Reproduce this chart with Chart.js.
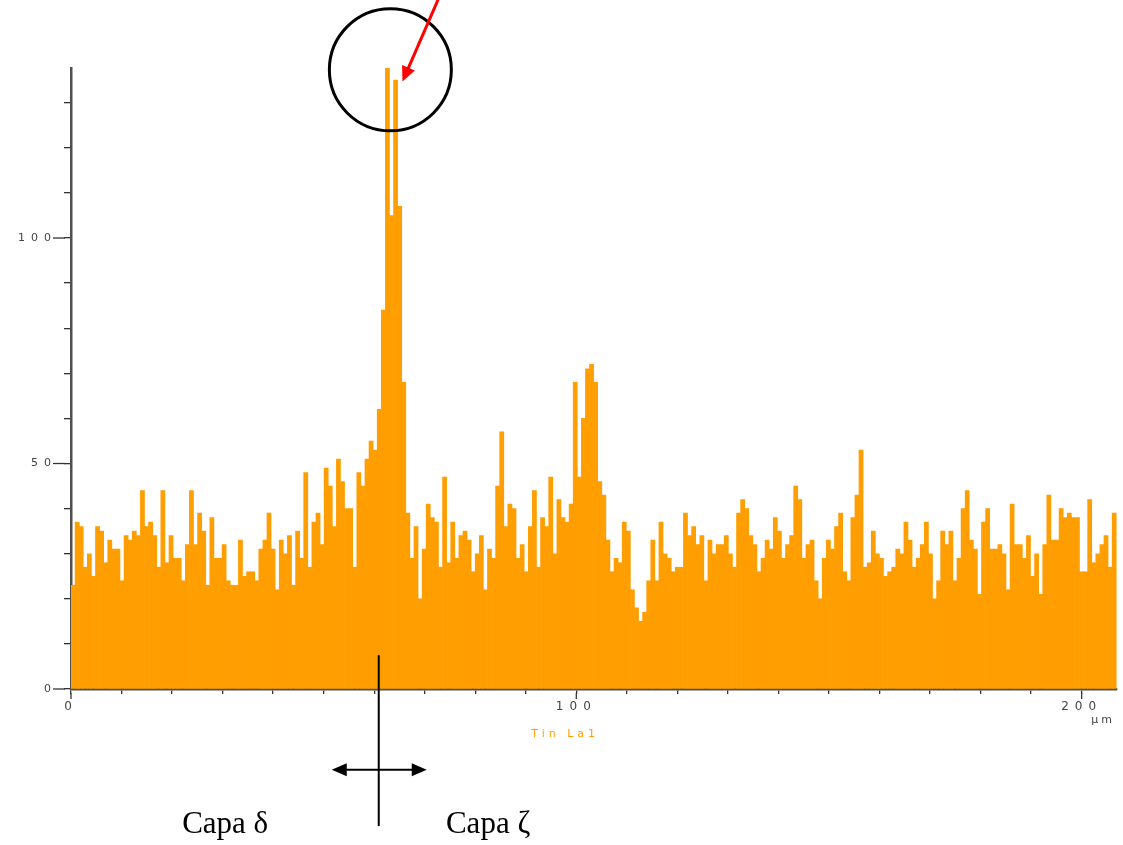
<!DOCTYPE html>
<html>
<head>
<meta charset="utf-8">
<title>Tin La1</title>
<style>
  html, body { margin: 0; padding: 0; background: #fff; }
</style>
</head>
<body>
<canvas id="myChart" width="1123" height="845"></canvas>
<script src="https://cdn.jsdelivr.net/npm/chart.js@4/dist/chart.umd.min.js"></script>
<script>

let seriesName = 'Tin La1';
let orange = '#FF9E00';

// cuentas por punto del perfil (de izquierda a derecha)
let counts = [
  23, 37, 36, 27, 30, 25, 36, 35, 28, 33, 31, 31, 24, 34, 33, 35, 34, 44, 36, 37,
  34, 27, 44, 28, 34, 29, 29, 24, 32, 44, 32, 39, 35, 23, 38, 29, 29, 32, 24, 23,
  23, 33, 25, 26, 26, 24, 31, 33, 39, 31, 22, 33, 30, 34, 23, 35, 29, 48, 27, 37,
  39, 32, 49, 45, 36, 51, 46, 40, 40, 27, 48, 45, 51, 55, 53, 62, 84, 138, 105, 135,
  107, 68, 39, 29, 36, 20, 31, 41, 38, 37, 27, 47, 28, 37, 29, 34, 35, 33, 26, 30,
  34, 22, 31, 29, 45, 57, 36, 41, 40, 29, 32, 26, 36, 44, 27, 38, 36, 47, 30, 42,
  38, 37, 41, 68, 47, 60, 71, 72, 68, 46, 43, 33, 26, 29, 28, 37, 35, 22, 18, 15,
  17, 24, 33, 24, 37, 30, 29, 26, 27, 27, 39, 34, 36, 32, 34, 24, 33, 30, 32, 32,
  34, 30, 27, 39, 42, 40, 34, 32, 26, 29, 33, 31, 38, 35, 29, 32, 34, 45, 42, 29,
  32, 33, 24, 20, 29, 33, 31, 36, 39, 26, 24, 38, 43, 53, 27, 28, 35, 30, 29, 25,
  26, 27, 31, 30, 37, 33, 27, 29, 32, 37, 30, 20, 24, 35, 32, 35, 24, 29, 40, 44,
  33, 31, 21, 37, 40, 31, 31, 32, 30, 22, 41, 32, 32, 29, 34, 25, 30, 21, 32, 43,
  33, 33, 40, 38, 39, 38, 38, 26, 26, 42, 28, 30, 32, 34, 27, 39
];
let stepUm = 0.808;   // µm entre puntos
let xMax = 207;
let yMax = 137.7;
let xLabelled = [0, 100, 200];
let yLabelled = [0, 50, 100];
let layerLabels = ['Capa δ', 'Capa ζ'];

let points = counts.map((v, i) => ({ x: (i + 0.5) * stepUm, y: v }));

function everyTen(max) {
  let t = [];
  for (let v = 0; v <= max; v += 10) t.push({ value: v });
  return t;
}

// dibujos a mano del informe (círculo, flechas, textos)
let notes = {
  circle: { x: 63.2, y: 137.3, r: 61 },
  arrowFrom: { x: 72.7, y: 153.0 },
  arrowTo: { x: 65.6, y: 134.7 },
  divider: { x: 60.9, y1: 7.5, y2: -30.4 },
  span: { x1: 51.6, x2: 70.4, y: -17.9 },
  textY: -31.9,
  textX: [22.0, 74.2],
  seriesAt: { x: 97.8, y: -9.9 },
  unitAt: { x: 206.6, y: -6.9 }
};

function arrowHead(ctx, fx, fy, tx, ty, len, half) {
  let a = Math.atan2(ty - fy, tx - fx);
  ctx.beginPath();
  ctx.moveTo(tx, ty);
  ctx.lineTo(tx - len * Math.cos(a) + half * Math.sin(a), ty - len * Math.sin(a) - half * Math.cos(a));
  ctx.lineTo(tx - len * Math.cos(a) - half * Math.sin(a), ty - len * Math.sin(a) + half * Math.cos(a));
  ctx.closePath();
  ctx.fill();
}

let extras = {
  id: 'extras',
  beforeDraw(chart) {
    chart.ctx.letterSpacing = '6px';
  },
  afterDraw(chart) {
    let ctx = chart.ctx;
    let xs = chart.scales.x, ys = chart.scales.y;
    let area = chart.chartArea;
    let px = v => xs.getPixelForValue(v);
    let py = v => ys.getPixelForValue(v);

    ctx.save();
    // ticks largos en los valores con etiqueta
    ctx.strokeStyle = '#333';
    ctx.lineWidth = 1.3;
    yLabelled.forEach(v => {
      ctx.beginPath();
      ctx.moveTo(area.left - 18, py(v));
      ctx.lineTo(area.left - 6, py(v));
      ctx.stroke();
    });
    xLabelled.forEach(v => {
      ctx.beginPath();
      ctx.moveTo(px(v), area.bottom + 4);
      ctx.lineTo(px(v), area.bottom + 10);
      ctx.stroke();
    });

    ctx.letterSpacing = '3px';
    ctx.font = '11px "DejaVu Sans"';
    ctx.textBaseline = 'middle';
    ctx.fillStyle = '#444';
    ctx.textAlign = 'right';
    ctx.fillText('µm', px(notes.unitAt.x), py(notes.unitAt.y));
    ctx.letterSpacing = '4px';
    ctx.fillStyle = orange;
    ctx.textAlign = 'center';
    ctx.fillText(seriesName, px(notes.seriesAt.x), py(notes.seriesAt.y));
    ctx.letterSpacing = '0px';

    // círculo
    ctx.strokeStyle = '#000';
    ctx.lineWidth = 3;
    ctx.beginPath();
    ctx.arc(px(notes.circle.x), py(notes.circle.y), notes.circle.r, 0, Math.PI * 2);
    ctx.stroke();

    // flecha roja
    let fx = px(notes.arrowFrom.x), fy = py(notes.arrowFrom.y);
    let tx = px(notes.arrowTo.x), ty = py(notes.arrowTo.y);
    ctx.strokeStyle = '#FF0000';
    ctx.fillStyle = '#FF0000';
    ctx.lineWidth = 3;
    let a = Math.atan2(ty - fy, tx - fx);
    ctx.beginPath();
    ctx.moveTo(fx, fy);
    ctx.lineTo(tx - 10 * Math.cos(a), ty - 10 * Math.sin(a));
    ctx.stroke();
    arrowHead(ctx, fx, fy, tx, ty, 15, 7);

    // separación de capas
    ctx.strokeStyle = '#000';
    ctx.fillStyle = '#000';
    ctx.lineWidth = 2;
    let dx = px(notes.divider.x);
    ctx.beginPath();
    ctx.moveTo(dx, py(notes.divider.y1));
    ctx.lineTo(dx, py(notes.divider.y2));
    ctx.stroke();
    let sy = py(notes.span.y), sx1 = px(notes.span.x1), sx2 = px(notes.span.x2);
    ctx.beginPath();
    ctx.moveTo(sx1 + 10, sy);
    ctx.lineTo(sx2 - 10, sy);
    ctx.stroke();
    arrowHead(ctx, sx2, sy, sx1, sy, 15, 6.5);
    arrowHead(ctx, sx1, sy, sx2, sy, 15, 6.5);

    ctx.font = '31px "Liberation Serif"';
    ctx.textAlign = 'left';
    ctx.textBaseline = 'alphabetic';
    layerLabels.forEach((t, i) => ctx.fillText(t, px(notes.textX[i]), py(notes.textY)));
    ctx.restore();
  }
};

let ctx = document.getElementById('myChart').getContext('2d');

let myChart = new Chart(ctx, {
  type: 'bar',
  data: {
    datasets: [{
      label: seriesName,
      data: points,
      backgroundColor: orange,
      borderWidth: 0,
      barPercentage: 1,
      categoryPercentage: 1
    }]
  },
  options: {
    responsive: false,
    animation: false,
    layout: {
      padding: { top: 68, right: 6, left: 0, bottom: 0 }
    },
    plugins: {
      legend: { display: false },
      tooltip: { enabled: false }
    },
    scales: {
      x: {
        type: 'linear',
        min: 0,
        max: xMax,
        offset: false,
        z: 1,
        afterBuildTicks: s => { s.ticks = everyTen(s.max); },
        afterFit: s => { s.height = 845 - 689; },
        grid: { offset: false, drawOnChartArea: false, tickLength: 5, color: '#333', lineWidth: 1.3 },
        border: { color: '#505050', width: 2.5 },
        ticks: {
          autoSkip: false,
          maxRotation: 0,
          padding: 6,
          color: '#444',
          font: { family: 'DejaVu Sans', size: 12 },
          callback: v => xLabelled.includes(v) ? String(v) : ''
        }
      },
      y: {
        type: 'linear',
        min: 0,
        max: yMax,
        z: 1,
        afterBuildTicks: s => { s.ticks = everyTen(s.max); },
        afterFit: s => { s.width = 71; },
        grid: { drawOnChartArea: false, tickLength: 7, color: '#333', lineWidth: 1.3 },
        border: { color: '#505050', width: 2.5 },
        ticks: {
          padding: 7,
          color: '#444',
          font: { family: 'DejaVu Sans', size: 11 },
          callback: v => yLabelled.includes(v) ? String(v) : ''
        }
      }
    }
  },
  plugins: [extras]
});
</script>
</body>
</html>
